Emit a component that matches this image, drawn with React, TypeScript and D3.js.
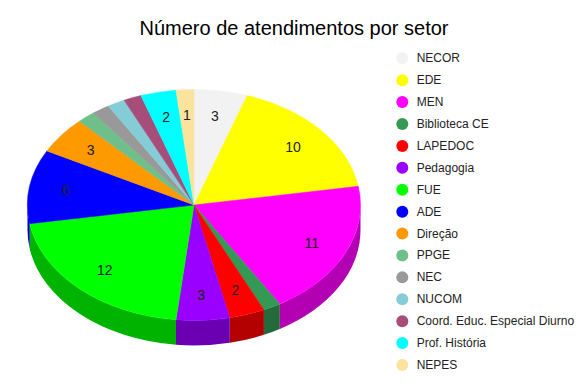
import React from "react";
import * as d3 from "d3";

const title = "Número de atendimentos por setor";
const categories = [
  "NECOR", "EDE", "MEN", "Biblioteca CE", "LAPEDOC", "Pedagogia", "FUE", "ADE",
  "Direção", "PPGE", "NEC", "NUCOM", "Coord. Educ. Especial Diurno", "Prof. História", "NEPES",
];
const values = [3, 10, 11, 1, 2, 3, 12, 6, 3, 1, 1, 1, 1, 2, 1];
const colors = [
  "#f2f2f2", "#ffff00", "#ff00ff", "#339955", "#ff0000", "#9900ff", "#00ff00", "#0000ff",
  "#ff9900", "#6fbf8a", "#999999", "#84cdd6", "#a64d79", "#00ffff", "#fbe29d",
];
const showLabel = [true, true, true, false, true, true, true, true, true, false, false, false, false, true, true];

const W = 582;
const H = 389;
const cx = 194;
const cy = 205;
const rx = 166.5;
const ry = 115.5;
const depth = 25;
const labelR = 0.78;

function P(a: number, dy = 0): [number, number] {
  return [cx + rx * Math.sin(a), cy - ry * Math.cos(a) + dy];
}

function darker(c: string) {
  const col = d3.rgb(c);
  return d3.rgb(col.r * 0.7, col.g * 0.7, col.b * 0.7).toString();
}

export default function App() {
  const pie = d3.pie<number>().sort(null).value((d) => d);
  const arcs = pie(values);

  const tops = arcs.map((a, i) => {
    const [x0, y0] = P(a.startAngle);
    const [x1, y1] = P(a.endAngle);
    const large = a.endAngle - a.startAngle > Math.PI ? 1 : 0;
    return { d: `M${cx},${cy}L${x0},${y0}A${rx},${ry} 0 ${large} 1 ${x1},${y1}Z`, i };
  });

  const sides = arcs
    .map((a, i) => {
      const s0 = Math.max(a.startAngle, Math.PI / 2);
      const s1 = Math.min(a.endAngle, (3 * Math.PI) / 2);
      if (s1 <= s0) return null;
      const [x0, y0] = P(s0);
      const [x1, y1] = P(s1);
      const [x2, y2] = P(s1, depth);
      const [x3, y3] = P(s0, depth);
      return {
        d: `M${x0},${y0}A${rx},${ry} 0 0 1 ${x1},${y1}L${x2},${y2}A${rx},${ry} 0 0 0 ${x3},${y3}Z`,
        i,
      };
    })
    .filter(Boolean) as { d: string; i: number }[];

  const legendY = d3.scalePoint<string>().domain(categories).range([58.3, 365]);

  return (
    <svg width={W} height={H} style={{ position: "absolute", left: 0, top: 0, background: "#fff" }}
      fontFamily="'Liberation Sans', Arial, sans-serif">
      <text x={W / 2 + 3} y={35} textAnchor="middle" fontSize={20} fill="#000">{title}</text>
      <g>
        {sides.map((s) => (
          <path key={"s" + s.i} d={s.d} fill={darker(colors[s.i])} />
        ))}
        {tops.map((t) => (
          <path key={"t" + t.i} d={t.d} fill={colors[t.i]} stroke={colors[t.i]} strokeWidth={0.5} />
        ))}
        {arcs.map((a, i) => {
          if (!showLabel[i]) return null;
          const m = (a.startAngle + a.endAngle) / 2;
          const x = cx + labelR * rx * Math.sin(m);
          const y = cy - labelR * ry * Math.cos(m);
          return (
            <text key={"l" + i} x={x} y={y} textAnchor="middle" dominantBaseline="central" fontSize={14} fill="#222">
              {values[i]}
            </text>
          );
        })}
      </g>
      <g>
        {categories.map((c, i) => (
          <g key={c} transform={`translate(402.3,${legendY(c)})`}>
            <circle r={6} fill={colors[i]} />
            <text x={14.4} y={0} dominantBaseline="central" fontSize={12} fill="#222">{c}</text>
          </g>
        ))}
      </g>
    </svg>
  );
}
